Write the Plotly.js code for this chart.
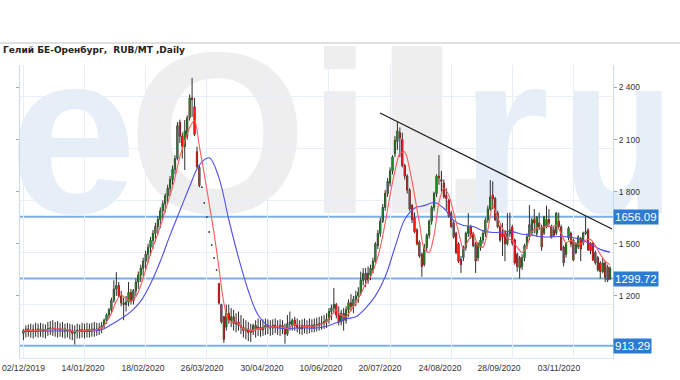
<!DOCTYPE html>
<html><head><meta charset="utf-8">
<script src="https://cdn.plot.ly/plotly-3.0.1.min.js"></script>
<style>
html,body{margin:0;padding:0;background:#fff;}
#wrap{position:relative;width:680px;height:380px;overflow:hidden;background:#fff;}
#wm{position:absolute;left:0;top:0;width:680px;height:380px;overflow:hidden;font-family:"Liberation Sans",Arial,sans-serif;font-weight:bold;font-size:230px;line-height:230px;white-space:nowrap;}
#wm span{position:absolute;top:19px;}
#chart{position:absolute;left:0;top:0;width:680px;height:380px;}
</style></head>
<body><div id="wrap">
<div id="wm"><span style="left:9px;color:#e6eef8">e</span><span style="left:128px;color:#eeeeee">O</span><span style="left:308px;color:#eeeeee">i</span><span style="left:375px;color:#eeeeee;transform:scaleX(1.6);transform-origin:15px 0">l</span><span style="left:440px;color:#eeeeee">.</span><span style="left:460px;color:#e6eef8">r</span><span style="left:562px;color:#e6eef8;transform:scaleX(0.8);transform-origin:0 0">u</span></div>
<div id="chart"></div></div>
<script>
const titleText = 'Гелий БЕ-Оренбург,  RUB/MT ,Daily';
const dates = ['02/12/2019','14/01/2020','18/02/2020','26/03/2020','30/04/2020','10/06/2020','20/07/2020','24/08/2020','28/09/2020','03/11/2020'];
const labelPos = [0,24.4,48.9,73.1,97.6,121.7,145.9,170.4,194.6,219.1];
const gridIdx = [0,25,50,75,100,125,150,175,200,225];
const yTicks = [1200,1500,1800,2100,2400];
const yTickText = ['1 200','1 500','1 800','2 100','2 400'];
const yGrid = [1150,1450,1750,2050,2350];
const levels = [1656.09,1299.72,913.29];
const levelText = ['1656.09','1299.72','913.29'];
const trendX = [145.9,240.8];
const trendY = [2253,1585];

const open = [
985,1000,1010,995,1000,1005,1000,1010,1005,1000,
1008,1010,1015,1012,1008,1010,1005,1010,1000,1005,
1000,985,995,1000,1005,1000,1005,1000,1008,1005,
1010,1005,1015,1030,1060,1090,1120,1175,1240,1260,
1200,1160,1150,1165,1220,1170,1230,1280,1320,1360,
1400,1440,1480,1520,1560,1600,1640,1690,1730,1775,
1820,1870,1930,1990,2200,2120,2060,2120,2226,2340,
2290,2030,1940,1826,1735,1654,1568,1493,1418,1349,
1270,1150,1080,1020,1100,1060,1080,1040,1050,1030,
1020,1000,1010,990,995,1030,1010,1020,1005,1020,
1030,1020,1015,1030,1025,1020,1030,1015,980,1040,
1030,1060,1030,1020,1010,1030,1020,1025,1030,1020,
1035,1030,1040,1045,1050,1065,1110,1130,1150,1090,
1050,1100,1060,1120,1160,1140,1180,1200,1220,1290,
1330,1290,1320,1350,1400,1490,1560,1630,1710,1790,
1850,1920,2020,2090,2140,2100,1950,1890,1810,1720,
1650,1580,1510,1440,1380,1480,1550,1630,1710,1790,
1890,1870,1850,1780,1750,1677,1620,1560,1500,1410,
1420,1480,1560,1597,1560,1500,1420,1480,1522,1560,
1637,1700,1780,1760,1677,1597,1560,1570,1500,1560,
1597,1522,1440,1420,1370,1420,1490,1540,1562,1640,
1560,1620,1597,1562,1600,1640,1597,1580,1562,1630,
1597,1482,1440,1534,1560,1522,1450,1482,1530,1504,
1560,1579,1504,1504,1450,1420,1390,1340,1390,1367,
1300];
const high = [
1010,1030,1035,1040,1035,1045,1040,1045,1040,1035,
1050,1055,1060,1050,1055,1045,1050,1040,1045,1040,
1035,1030,1040,1035,1045,1040,1045,1040,1045,1050,
1045,1045,1050,1070,1100,1130,1190,1290,1337,1280,
1230,1190,1200,1280,1240,1240,1300,1340,1380,1420,
1460,1500,1540,1580,1620,1660,1710,1750,1790,1840,
1890,1950,2010,2200,2215,2140,2213,2240,2360,2455,
2340,2060,1950,1826,1735,1654,1568,1493,1418,1349,
1275,1155,1085,1150,1150,1130,1120,1100,1110,1090,
1070,1060,1050,1040,1040,1060,1070,1060,1065,1070,
1065,1060,1065,1070,1060,1065,1060,1040,1090,1110,
1070,1080,1070,1060,1065,1070,1060,1070,1065,1070,
1075,1080,1085,1090,1100,1130,1150,1245,1160,1140,
1120,1130,1140,1180,1210,1200,1230,1250,1340,1360,
1360,1370,1380,1420,1510,1580,1650,1730,1810,1880,
1940,2010,2120,2201,2170,2140,1960,1900,1820,1730,
1680,1590,1520,1450,1500,1560,1640,1720,1800,1900,
2011,1920,1870,1820,1760,1690,1630,1570,1510,1430,
1490,1570,1677,1610,1570,1510,1510,1540,1580,1650,
1720,1867,1860,1770,1690,1610,1620,1580,1677,1680,
1610,1530,1450,1430,1440,1500,1560,1723,1650,1700,
1660,1680,1610,1660,1720,1700,1610,1600,1683,1680,
1610,1490,1510,1600,1570,1530,1510,1550,1540,1570,
1656,1590,1510,1510,1460,1430,1400,1420,1400,1380,
1370];
const low = [
945,960,965,960,955,965,960,965,960,955,
970,975,970,965,960,965,960,955,960,950,
945,920,955,955,960,955,960,960,965,965,
970,975,985,1010,1040,1070,1100,1160,1200,1190,
1140,1060,1110,1140,1150,1150,1200,1240,1280,1310,
1350,1390,1430,1470,1510,1550,1590,1640,1680,1730,
1780,1840,1900,1980,2080,1990,1925,2100,2210,2230,
2120,1935,1826,1826,1735,1654,1568,1493,1418,1349,
1150,1040,930,1000,1040,1020,1000,990,1000,980,
960,950,940,935,975,960,970,965,970,975,
980,970,975,985,975,970,980,925,970,1000,
1000,1000,990,980,975,985,980,985,990,990,
995,1000,1005,1010,1015,1040,1060,1100,1070,1030,
1030,1000,1040,1080,1110,1100,1140,1160,1200,1260,
1250,1270,1290,1330,1390,1470,1540,1620,1690,1770,
1830,1900,2000,2040,2000,1940,1870,1790,1690,1620,
1560,1490,1420,1310,1370,1460,1530,1610,1690,1770,
1840,1800,1760,1695,1650,1590,1530,1440,1390,1332,
1400,1460,1540,1530,1480,1332,1400,1460,1500,1540,
1620,1690,1700,1630,1590,1510,1430,1400,1490,1540,
1490,1380,1340,1300,1350,1400,1470,1520,1550,1560,
1540,1580,1460,1550,1590,1600,1530,1540,1550,1590,
1460,1370,1420,1520,1480,1400,1440,1470,1400,1490,
1550,1460,1440,1400,1380,1340,1300,1330,1280,1280,
1290];
const close = [
1000,1005,995,1000,1005,1000,1010,1005,1000,1008,
1010,1015,1012,1008,1010,1005,1010,1000,1005,1000,
985,995,1000,1005,1000,1005,1000,1008,1005,1010,
1005,1015,1030,1060,1090,1120,1175,1240,1260,1200,
1160,1150,1165,1220,1170,1230,1280,1320,1360,1400,
1440,1480,1520,1560,1600,1640,1690,1730,1775,1820,
1870,1930,1990,2180,2120,2060,2150,2225,2340,2330,
2130,1945,1835,1826,1735,1654,1568,1493,1418,1349,
1160,1050,950,1100,1060,1080,1040,1050,1030,1020,
1000,1010,990,1000,1030,1010,1020,1005,1020,1030,
1020,1015,1030,1025,1020,1030,1020,980,1040,1050,
1060,1030,1020,1010,1030,1020,1025,1030,1020,1035,
1030,1040,1045,1050,1065,1110,1130,1150,1090,1050,
1100,1060,1120,1160,1140,1180,1200,1220,1290,1330,
1290,1330,1360,1400,1500,1560,1630,1710,1790,1860,
1920,2000,2095,2150,2110,1950,1890,1810,1700,1640,
1570,1500,1430,1370,1480,1550,1630,1710,1790,1890,
1880,1860,1770,1760,1660,1600,1540,1450,1400,1380,
1480,1560,1600,1540,1490,1400,1500,1522,1560,1637,
1700,1770,1760,1640,1597,1522,1540,1500,1560,1580,
1504,1390,1370,1360,1420,1490,1540,1610,1637,1620,
1654,1600,1482,1654,1640,1620,1539,1550,1677,1600,
1464,1390,1500,1590,1500,1407,1500,1539,1470,1562,
1570,1464,1460,1407,1390,1350,1340,1390,1308,1291,
1360];
// fast moving average, read every 2nd bar
const maFast = [
1000,1002,1001,1003,1004,1006,1010,1010,1008,1005,
998,995,1000,1003,1004,1007,1015,1050,1100,1170,
1205,1185,1170,1195,1260,1350,1440,1520,1600,1690,
1780,1880,2000,2090,2170,2210,2060,1900,1730,1560,
1360,1160,1055,1050,1040,1010,1005,1000,1012,1015,
1020,1022,1024,1020,1012,1030,1040,1025,1022,1025,
1030,1038,1050,1090,1115,1090,1080,1120,1160,1210,
1270,1310,1380,1480,1620,1780,1920,2020,2030,1930,
1780,1620,1470,1450,1550,1740,1820,1780,1680,1570,
1470,1520,1560,1490,1480,1580,1720,1650,1590,1530,
1520,1480,1450,1490,1570,1590,1595,1600,1600,1605,
1560,1505,1520,1500,1500,1520,1525,1490,1440,1400,
1380];
// slow moving average, read every 4th bar
const maSlow = [
995,996,997,998,998,997,996,997,1005,1035,
1070,1110,1170,1270,1400,1550,1690,1830,1955,1995,
1880,1640,1420,1230,1090,1030,1015,1012,1015,1015,
1015,1025,1045,1068,1080,1130,1200,1310,1480,1640,
1705,1720,1738,1705,1635,1605,1600,1575,1565,1568,
1570,1555,1550,1540,1540,1542,1538,1525,1500,1468,
1452];

const YR = [842.5, 2529.6];
const XR = [-1.4, 241.2];

const wick = {type:'candlestick', open:open, high:high, low:low, close:close,
  xaxis:'x', yaxis:'y', whiskerwidth:0, hoverinfo:'skip', showlegend:false,
  increasing:{line:{color:'#2e2e2e',width:1},fillcolor:'#2e2e2e'},
  decreasing:{line:{color:'#2e2e2e',width:1},fillcolor:'#2e2e2e'}};
const body = {type:'candlestick', open:open, high:high, low:low, close:close,
  xaxis:'x', yaxis:'y', whiskerwidth:0, hoverinfo:'skip', showlegend:false,
  increasing:{line:{color:'rgba(0,0,0,0)',width:0},fillcolor:'#23881f'},
  decreasing:{line:{color:'rgba(0,0,0,0)',width:0},fillcolor:'#ff1414'}};
const fast = {type:'scatter', mode:'lines', x0:0, dx:2, y:maFast, xaxis:'x', yaxis:'y',
  line:{color:'#ff5a5a', width:1.1, shape:'spline', smoothing:0.8}, hoverinfo:'skip', showlegend:false};
const slow = {type:'scatter', mode:'lines', x0:0, dx:4, y:maSlow, xaxis:'x', yaxis:'y',
  line:{color:'#4f4ff0', width:1.1, shape:'spline', smoothing:1}, hoverinfo:'skip', showlegend:false};

const shapes = [];
levels.forEach(v => shapes.push({type:'line', xref:'paper', x0:0, x1:1, yref:'y', y0:v, y1:v,
  line:{color:'#7cb0e4', width:2}, layer:'below'}));
shapes.push({type:'line', xref:'x', yref:'y', x0:trendX[0], x1:trendX[1], y0:trendY[0], y1:trendY[1],
  line:{color:'#1e1e1e', width:1.2}});
shapes.push({type:'line', xref:'paper', yref:'paper', x0:-20/593, x1:660/593, y0:(358-43)/293, y1:(358-43)/293,
  line:{color:'#d6d6d6', width:1.5}});

const annotations = levels.map((v,k) => ({xref:'paper', x:1, xanchor:'left', yref:'y', y:v, yanchor:'middle',
  text:levelText[k], showarrow:false, bgcolor:'#2b7bd2', borderpad:1,
  font:{family:'Liberation Sans, Arial, sans-serif', size:11.5, color:'#ffffff'}}));

const layout = {
  width:680, height:380,
  margin:{l:20, r:67, t:65, b:22, pad:0},
  paper_bgcolor:'rgba(0,0,0,0)', plot_bgcolor:'rgba(0,0,0,0)',
  showlegend:false, dragmode:false,
  title:{text:'<b>'+titleText+'</b>', xref:'container', yref:'container', x:3/680, xanchor:'left',
    y:1-50/380, yanchor:'middle', font:{family:'DejaVu Sans, sans-serif', size:9, color:'#222'}},
  xaxis:{range:XR, tickvals:gridIdx, showticklabels:false, ticks:'', showgrid:true, gridcolor:'#e6eef7', gridwidth:1,
    zeroline:false, showline:true, linecolor:'#dbe7f3', linewidth:1, rangeslider:{visible:false}, fixedrange:true},
  xaxis2:{overlaying:'x', anchor:'y', side:'bottom', range:XR, tickmode:'array', tickvals:labelPos, ticktext:dates,
    showgrid:false, zeroline:false, showline:false, ticks:'', ticklabelstandoff:3,
    tickfont:{family:'Liberation Sans, Arial, sans-serif', size:8.6, color:'#333'}, fixedrange:true},
  yaxis:{range:YR, side:'right', tickvals:yTicks, ticktext:yTickText, showgrid:false, zeroline:false,
    ticks:'outside', ticklen:3, tickcolor:'#9aa8b8', showline:true, linecolor:'#c8dbee', linewidth:1, mirror:'ticks',
    tickfont:{family:'Liberation Sans, Arial, sans-serif', size:8.5, color:'#333'}, fixedrange:true},
  yaxis2:{overlaying:'y', side:'left', range:YR, tickvals:yGrid, showticklabels:false, ticks:'', showgrid:true,
    gridcolor:'#e6eef7', gridwidth:1, zeroline:false, showline:false, fixedrange:true},
  shapes:shapes, annotations:annotations
};
const labelAxis = {type:'scatter', mode:'markers', x:[labelPos[0]], y:[YR[0]-500], xaxis:'x2', yaxis:'y2', hoverinfo:'skip', showlegend:false, marker:{opacity:0}};
Plotly.newPlot('chart', [labelAxis, wick, body, slow, fast], layout, {staticPlot:true, displayModeBar:false});
</script>
</body></html>
